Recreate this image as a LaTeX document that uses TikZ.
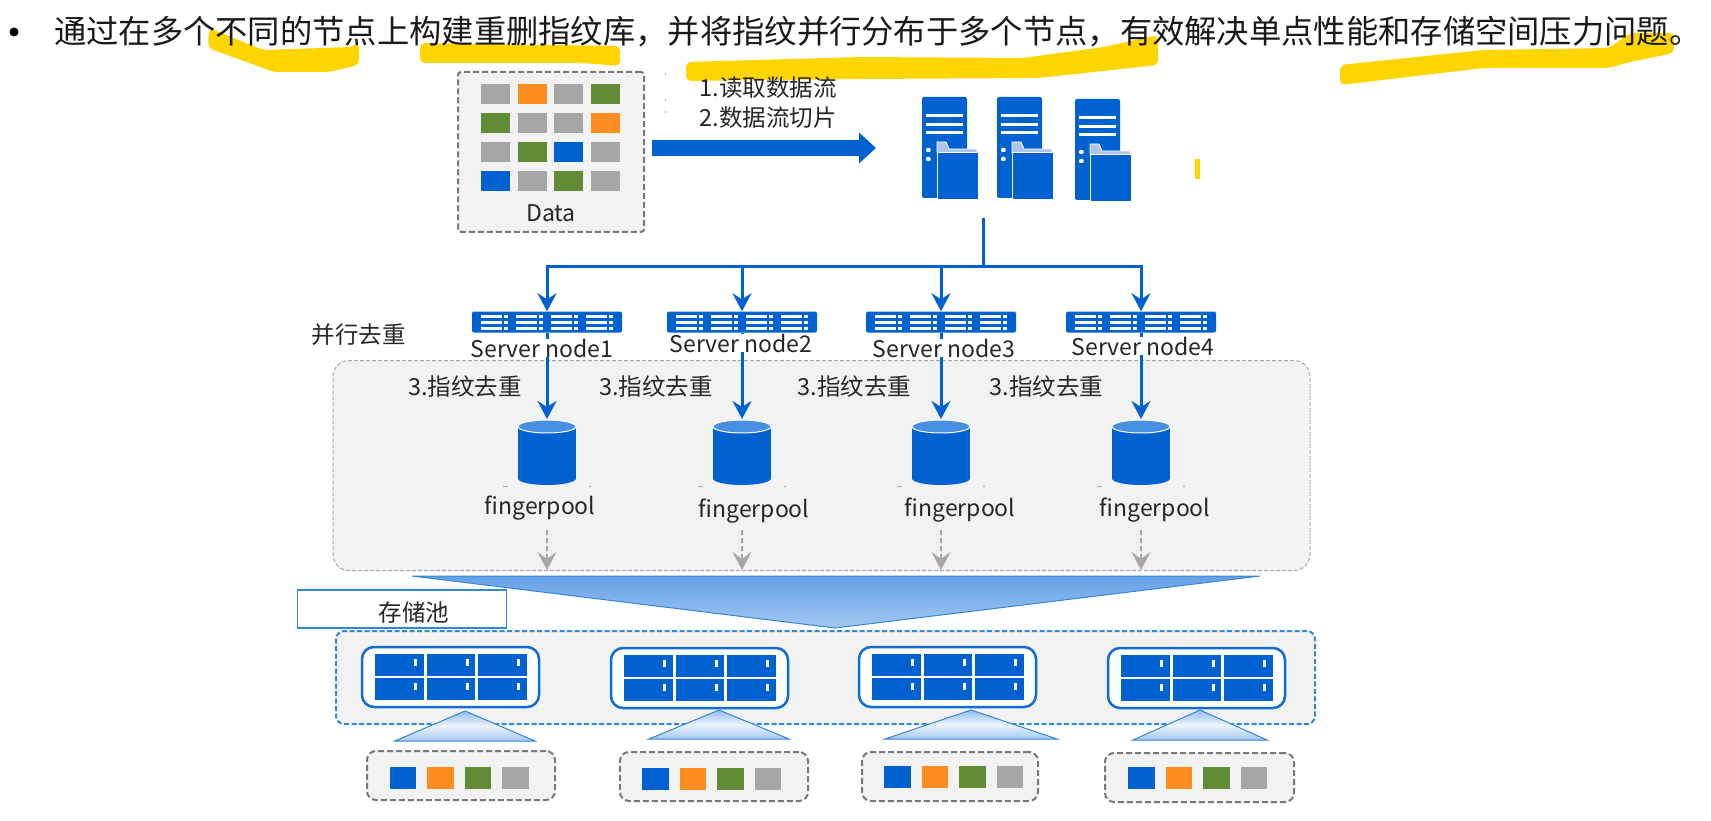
\documentclass[tikz,border=0pt]{standalone}
\usepackage{fontspec}
\setmainfont{Noto Sans CJK SC}
\usetikzlibrary{arrows.meta,calc}
\definecolor{flowblue}{RGB}{0,98,209}
\definecolor{lidblue}{RGB}{74,144,226}
\definecolor{tabblue}{RGB}{176,196,232}
\definecolor{edgeblue}{RGB}{50,135,215}
\definecolor{swgray}{RGB}{166,166,166}
\definecolor{sworange}{RGB}{255,140,30}
\definecolor{swgreen}{RGB}{98,139,53}
\definecolor{panelgray}{RGB}{242,242,242}
\definecolor{dashgray}{RGB}{120,120,120}
\definecolor{marker}{RGB}{255,213,0}
\tikzset{
  flowline/.style={draw=flowblue,line width=3pt},
  flowarrow/.style={flowline,-{Stealth[length=18pt,width=19pt,inset=6pt]}},
  dropline/.style={draw=swgray,line width=2.4pt,dash pattern=on 5pt off 3pt,-{Stealth[length=18pt,width=19pt,inset=7pt]}},
  cnlabel/.style={font=\fontsize{23.5}{28}\selectfont,text=black!85,inner sep=0pt},
  latinlabel/.style={font=\fontsize{23}{28}\selectfont,text=black!85,inner sep=0pt},
  serverbar/.style={rectangle,fill=flowblue,rounded corners=2pt,minimum width=150pt,minimum height=21pt,inner sep=0pt},
  dashbox/.style={draw=dashgray,line width=2pt,dash pattern=on 6pt off 3pt,fill=panelgray,rounded corners=9pt}
}
\newcommand{\markerstroke}[1]{\fill[marker,rounded corners=5pt] #1 -- cycle;}
\newcommand{\swatchset}[2]{%
  \foreach \sI/\sC in {0/flowblue,1/sworange,2/swgreen,3/swgray}
    \fill[\sC] ({#1+37.5*\sI},#2) rectangle ++(26.5,22);%
}
\newcommand{\folderrack}[2]{%
  \fill[flowblue,rounded corners=2pt] (#1,#2) rectangle ++(45,101);%
  \foreach \sY in {19,28,36} \fill[white] (#1+4,#2+\sY-1.5) rectangle ++(37,3);%
  \foreach \sY in {53,62} \fill[white,rounded corners=1pt] (#1+4,#2+\sY-2) rectangle ++(4.5,4);%
  \fill[tabblue,draw=white,line width=0.8pt] (#1+15,#2+56) -- ++(0,-11) -- ++(9,0) -- ++(3,7) -- ++(28,0) -- ++(0,6) -- cycle;%
  \fill[flowblue,draw=white,line width=1pt] (#1+15,#2+56) rectangle ++(41,47);%
}
\newcommand{\fpdrum}[2]{%
  \fill[flowblue] (#1-29,#2+6.5) rectangle (#1+29,#2+58.5);%
  \fill[flowblue] (#1,#2+58.5) ellipse (29 and 6.5);%
  \fill[lidblue,draw=white,line width=1pt] (#1,#2+6.5) ellipse (29 and 6.5);%
}
\newcommand{\diskshelf}[2]{%
  \draw[edgeblue!30!flowblue,line width=2.5pt,fill=white,rounded corners=12pt] (#1,#2) rectangle ++(177,60);%
  \foreach \sI in {0,1,2}{
    \foreach \sJ in {0,1}{
      \fill[flowblue] ({#1+13+51.7*\sI},{#2+7+24*\sJ}) rectangle ++(48.5,22);%
      \fill[white] ({#1+13+39+51.7*\sI},{#2+12+24*\sJ}) rectangle ++(3,7);%
    }
  }%
}
\newcommand{\feedwedge}[4]{%
  \draw[edgeblue,line width=1pt,top color=lidblue!60,bottom color=lidblue!50,middle color=lidblue!10] (#1,#2) -- (#3,#4) -- ({2*#1-#3},#4) -- cycle;%
}
\begin{document}
\begin{tikzpicture}[x=1pt,y=-1pt]
  \useasboundingbox (0,0) rectangle (1711,821);
  % marker strokes
  \markerstroke{(209,28) -- (263,50) -- (351,47) -- (359,43) -- (359,65) -- (329,72) -- (274,72) -- (208,48)}
  \markerstroke{(420,43) -- (620,46) -- (620,66) -- (581,63) -- (420,63)}
  \markerstroke{(686,62) -- (860,57) -- (1023,58) -- (1104,47) -- (1158,35) -- (1158,65) -- (1039,78) -- (860,79) -- (686,81)}
  \markerstroke{(1340,65) -- (1484,50) -- (1609,48) -- (1630,33) -- (1674,33) -- (1674,53) -- (1630,62) -- (1609,68) -- (1484,68) -- (1340,85)}
  \fill[marker] (1195,159) rectangle (1200,179);
  % headline
  \fill[black] (14,32) circle (4.5);
  \node[anchor=west,inner sep=0pt,font=\fontsize{32.3}{38}\selectfont,text=black!90] (headline) at (54,32) {通过在多个不同的节点上构建重删指纹库，并将指纹并行分布于多个节点，有效解决单点性能和存储空间压力问题。};
  % data block
  \node[dashbox,rounded corners=3pt,minimum width=186pt,minimum height=160pt,inner sep=0pt] (databox) at (551,152) {};
  \foreach \x/\y/\c in {481/84/swgray,518/84/sworange,554/84/swgray,591/84/swgreen,
    481/113/swgreen,518/113/swgray,554/113/swgray,591/113/sworange,
    481/142/swgray,518/142/swgreen,554/142/flowblue,591/142/swgray,
    481/171/flowblue,518/171/swgray,554/171/swgreen,591/171/swgray}
    \fill[\c] (\x,\y) rectangle ++(29,20);
  \node[latinlabel] (datalabel) at (551,213) {Data};
  \foreach \y in {74,100,112} \fill[swgray] (665.5,\y) circle (0.8);
  \node[cnlabel] (stepread) at (768,88) {1.读取数据流};
  \node[cnlabel] (stepslice) at (768,118) {2.数据流切片};
  \coordinate (bigfrom) at (652,148);
  \coordinate (bigto) at (876,148);
  \draw[flowblue,line width=16pt,-{Triangle[length=17pt,width=30pt]}] (bigfrom) -- (bigto);
  \folderrack{922}{97}
  \folderrack{997}{97}
  \folderrack{1075}{99}
  % parallel dedup panel
  \node[draw=swgray,line width=1pt,dash pattern=on 4pt off 2pt,fill=panelgray,rounded corners=16pt,minimum width=977pt,minimum height=210pt,inner sep=0pt] (dedup) at (821.5,465.5) {};
  \node[cnlabel] (paralabel) at (358.5,335) {并行去重};
  \coordinate (hub) at (983,218);
  \coordinate (junction) at (983,266);
  \draw[flowline] (hub) -- (junction);
  \foreach \n/\x in {A/547,B/742,C/941,D/1141}{
    \node[serverbar] (srv\n) at (\x,322) {};
    \foreach \dx in {-66,-31,4,39}{
      \foreach \dy in {-6,0,6}{
        \fill[white] (\x+\dx,322+\dy-1.5) rectangle ++(27,3);
        \fill[flowblue] (\x+\dx+21,322+\dy-1.5) rectangle ++(1.5,3);
      }
    }
    \draw[flowarrow] (junction) -| (srv\n.north);
    \fpdrum{\x}{420}
    \coordinate (fp\n) at (\x,419);
    \draw[flowarrow] (srv\n.south) -- (fp\n);
    \fill[swgray] (\x-44,486) rectangle ++(5,1);
    \fill[swgray] (\x+42,486) rectangle ++(2,1);
    \coordinate (drop\n) at (\x,530);
    \coordinate (land\n) at (\x,570);
    \draw[dropline] (drop\n) -- (land\n);
  }
  \foreach \n/\k/\x/\y in {A/1/542/348,B/2/741/343,C/3/944/348,D/4/1143/346}
    \node[latinlabel,fill=white] (srvlabel\n) at (\x,\y) {Server node\k};
  \foreach \n/\x in {A/465,B/656,C/854.5,D/1046.5}
    \node[cnlabel] (dedup\n) at (\x,387) {3.指纹去重};
  \foreach \n/\x/\y in {A/540/508,B/754/511,C/960/510.5,D/1155/510.5}
    \node[latinlabel] (fplabel\n) at (\x,\y) {fingerpool};
  % storage pool
  \draw[edgeblue,line width=1pt,top color=lidblue!85,bottom color=lidblue!50] (412,576) -- (1260,576) -- (835,628) -- cycle;
  \node[rectangle,draw=edgeblue,line width=1.8pt,fill=white,minimum width=209pt,minimum height=38pt,inner sep=0pt] (poolbox) at (402,609) {};
  \node[cnlabel] (poollabel) at (414,613) {存储池};
  \node[draw=edgeblue,line width=2pt,dash pattern=on 5pt off 2.5pt,fill=panelgray,rounded corners=8pt,minimum width=979pt,minimum height=93pt,inner sep=0pt] (poolpanel) at (825.5,677.5) {};
  \diskshelf{362}{647}
  \diskshelf{611}{648}
  \diskshelf{859}{647}
  \diskshelf{1108}{648}
  \feedwedge{465}{711}{395}{741}
  \feedwedge{719}{710}{649}{739}
  \feedwedge{971}{710}{885}{739}
  \feedwedge{1200}{710}{1133}{740}
  \foreach \n/\x/\y/\w in {A/461/775.5/188,B/714/776.5/188,C/950/776.5/176,D/1199.5/777.5/189}
    \node[dashbox,minimum width=\w pt,minimum height=49pt,inner sep=0pt] (feed\n) at (\x,\y) {};
  \swatchset{389.5}{767}
  \swatchset{642}{768}
  \swatchset{884}{766}
  \swatchset{1128}{767}
\end{tikzpicture}
\end{document}
